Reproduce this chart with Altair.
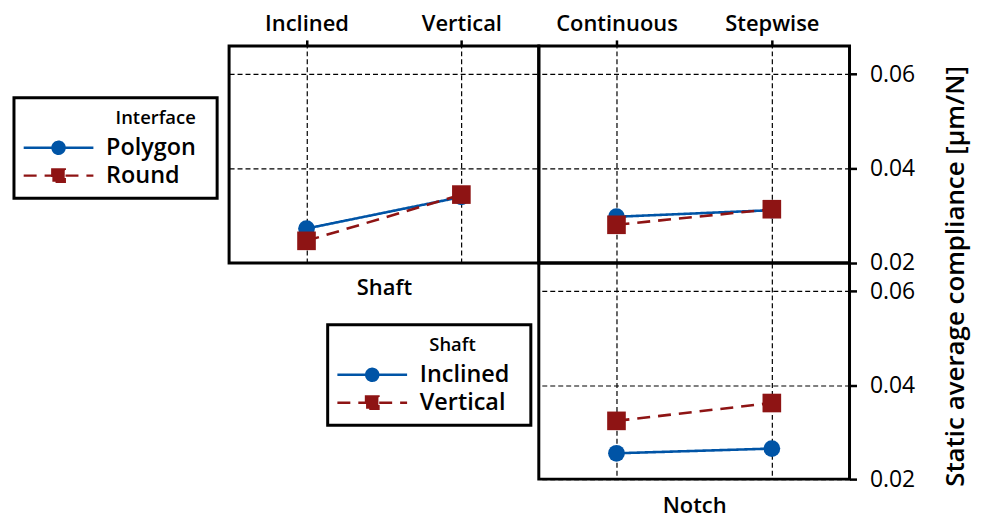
import altair as alt
import pandas as pd

# ---------------- data ----------------
shaft_levels = ["Inclined", "Vertical"]
notch_levels = ["Continuous", "Stepwise"]
interface_levels = ["Polygon", "Round"]

# top-left panel: Shaft (x) by Interface
polygon_by_shaft = [0.0273, 0.0340]
round_by_shaft = [0.0247, 0.0345]
# top-right panel: Notch (x) by Interface
polygon_by_notch = [0.0298, 0.0312]
round_by_notch = [0.0281, 0.0314]
# bottom-right panel: Notch (x) by Shaft
inclined_by_notch = [0.0255, 0.0265]
vertical_by_notch = [0.0324, 0.0362]

y_ticks = [0.02, 0.04, 0.06]
y_domain = [0.02, 0.066]
y_title = "Static average compliance [µm/N]"


def long_df(xname, xlevels, sname, slevels, series):
    rows = []
    for s, vals in zip(slevels, series):
        for xv, v in zip(xlevels, vals):
            rows.append({xname: xv, sname: s, "value": v})
    return pd.DataFrame(rows)


df_tl = long_df("Shaft", shaft_levels, "Interface", interface_levels,
                [polygon_by_shaft, round_by_shaft])
df_tr = long_df("Notch", notch_levels, "Interface", interface_levels,
                [polygon_by_notch, round_by_notch])
df_br = long_df("Notch", notch_levels, "Shaft", shaft_levels,
                [inclined_by_notch, vertical_by_notch])

# ---------------- style ----------------
BLUE = "#0054A6"
RED = "#8E1414"
FONT = "Open Sans"
COLORS = [BLUE, RED]
DASHES = [[1, 0], [13, 8]]
MARKERS = ["circle", "square"]
MARKER_SIZES = [284, 350]
# legend keys: line through a marker (the trailing move-to only widens the key's bounds)
KEY_CIRCLE = "M-3.5,0L3.5,0M0.6,0A0.6,0.6,0,1,1,-0.6,0A0.6,0.6,0,1,1,0.6,0ZM14.3,0"
KEY_SQUARE = "M-3.5,0L3.5,0M-0.62,-0.62L0.62,-0.62L0.62,0.62L-0.62,0.62ZM14.3,0"

grid = dict(grid=True, gridColor="black", gridDash=[5, 3], gridWidth=1.2, gridOpacity=1)

x_top_common = dict(orient="top", labels=True, labelFont=FONT, labelFontSize=22,
                    labelFontWeight=600, labelColor="black", labelAngle=0, labelPadding=4,
                    ticks=True, tickSize=6, tickWidth=2.5, tickColor="black", domain=False,
                    **grid)
title_style = dict(titleFont=FONT, titleFontSize=22, titleFontWeight=600, titleColor="black")

x_tl = alt.Axis(title="Shaft", titleX=155.5, titleY=243, titleBaseline="middle",
                titleAlign="center", **title_style, **x_top_common)
x_tr = alt.Axis(title=None, **x_top_common)
x_br = alt.Axis(orient="bottom", labels=False, ticks=False, domain=False, title="Notch",
                titleX=156, titleY=27, titleBaseline="middle", titleAlign="center",
                **title_style, **grid)

y_right_common = dict(orient="right", values=y_ticks, format=".2f", labelFont=FONT,
                      labelFontSize=23, labelColor="black", labelPadding=13, ticks=True,
                      tickSize=7, tickWidth=2.5, tickColor="black", domain=False, **grid)
y_tl = alt.Axis(orient="left", values=y_ticks, labels=False, ticks=False, domain=False,
                title=None, **grid)
y_tr = alt.Axis(title=y_title, titleAngle=270, titleX=106, titleY=231, titleAlign="center",
                titleBaseline="middle", titleFont=FONT, titleFontSize=26,
                titleFontWeight=600, titleColor="black", **y_right_common)
y_br = alt.Axis(title=None, **y_right_common)

leg_common = dict(orient="none", titleFont=FONT, titleFontSize=18.5, titleFontWeight=600,
                  titleColor="black", labelFont=FONT, labelFontSize=23.5, labelFontWeight=600,
                  labelColor="black", symbolSize=400, symbolStrokeWidth=2.5, symbolOffset=22,
                  labelOffset=36, padding=11, rowPadding=3, titlePadding=9,
                  titleAnchor="middle", titleAlign="left", strokeColor="black")
legend_interface = alt.Legend(title="Interface", legendX=-216, legendY=52, **leg_common)
legend_shaft = alt.Legend(title="Shaft", legendX=-212, legendY=62, **leg_common)


def panel(df, xname, xlevels, sname, slevels, w, h, x_axis, y_axis, legend):
    x = alt.X(f"{xname}:N", sort=xlevels,
              scale=alt.Scale(type="point", domain=xlevels, padding=0.5), axis=x_axis)
    y = alt.Y("value:Q", scale=alt.Scale(domain=y_domain, nice=False, zero=False), axis=y_axis)
    base = alt.Chart(df)
    layers = [
        base.transform_filter(alt.datum[sname] == lvl)
        .mark_line(color=col, strokeDash=dash, strokeWidth=2.6)
        .encode(x=x, y=y)
        for lvl, col, dash in zip(slevels, COLORS, DASHES)
    ]
    layers += [
        base.transform_filter(alt.datum[sname] == lvl)
        .mark_point(filled=True, opacity=1, color=col, shape=shp, size=sz, strokeWidth=0)
        .encode(x=x, y=y)
        for lvl, col, shp, sz in zip(slevels, COLORS, MARKERS, MARKER_SIZES)
    ]
    if legend is not None:
        cscale = alt.Scale(domain=slevels, range=COLORS)
        dscale = alt.Scale(domain=slevels, range=DASHES)
        sscale = alt.Scale(domain=slevels, range=[KEY_CIRCLE, KEY_SQUARE])
        key = base.transform_filter("false").mark_point(filled=True, opacity=1).encode(
            x=x, y=y,
            color=alt.Color(f"{sname}:N", scale=cscale, legend=legend),
            stroke=alt.Stroke(f"{sname}:N", scale=cscale, legend=legend),
            strokeDash=alt.StrokeDash(f"{sname}:N", scale=dscale, legend=legend),
            shape=alt.Shape(f"{sname}:N", scale=sscale, legend=legend),
            strokeWidth=alt.value(0),
        )
        layers.append(key)
    return alt.layer(*layers).properties(width=w, height=h)


tl = panel(df_tl, "Shaft", shaft_levels, "Interface", interface_levels, 311, 218,
           x_tl, y_tl, legend_interface)
tr = panel(df_tr, "Notch", notch_levels, "Interface", interface_levels, 312, 218,
           x_tr, y_tr, None)
br = panel(df_br, "Notch", notch_levels, "Shaft", shaft_levels, 312, 217,
           x_br, y_br, legend_shaft)

blank = alt.Chart(pd.DataFrame({"v": [0.0]})).mark_point(opacity=0).encode(
    x=alt.X("v:Q", axis=None), y=alt.Y("v:Q", axis=None)
).properties(width=311, height=217, view=alt.ViewBackground(stroke="transparent"))

chart = alt.concat(tl, tr, blank, br, columns=2, spacing=0, bounds="flush").resolve_scale(
    x="independent", y="independent", color="independent", stroke="independent",
    strokeDash="independent", shape="independent"
).resolve_legend(
    color="independent", stroke="independent", strokeDash="independent", shape="independent"
).configure_view(
    stroke="black", strokeWidth=3
).configure_legend(
    strokeWidth=3
).properties(
    background="white",
    padding={"left": 3, "top": 2, "right": 5, "bottom": 5},
)

chart.save("out.html", embed_options={"renderer": "svg", "actions": False})
